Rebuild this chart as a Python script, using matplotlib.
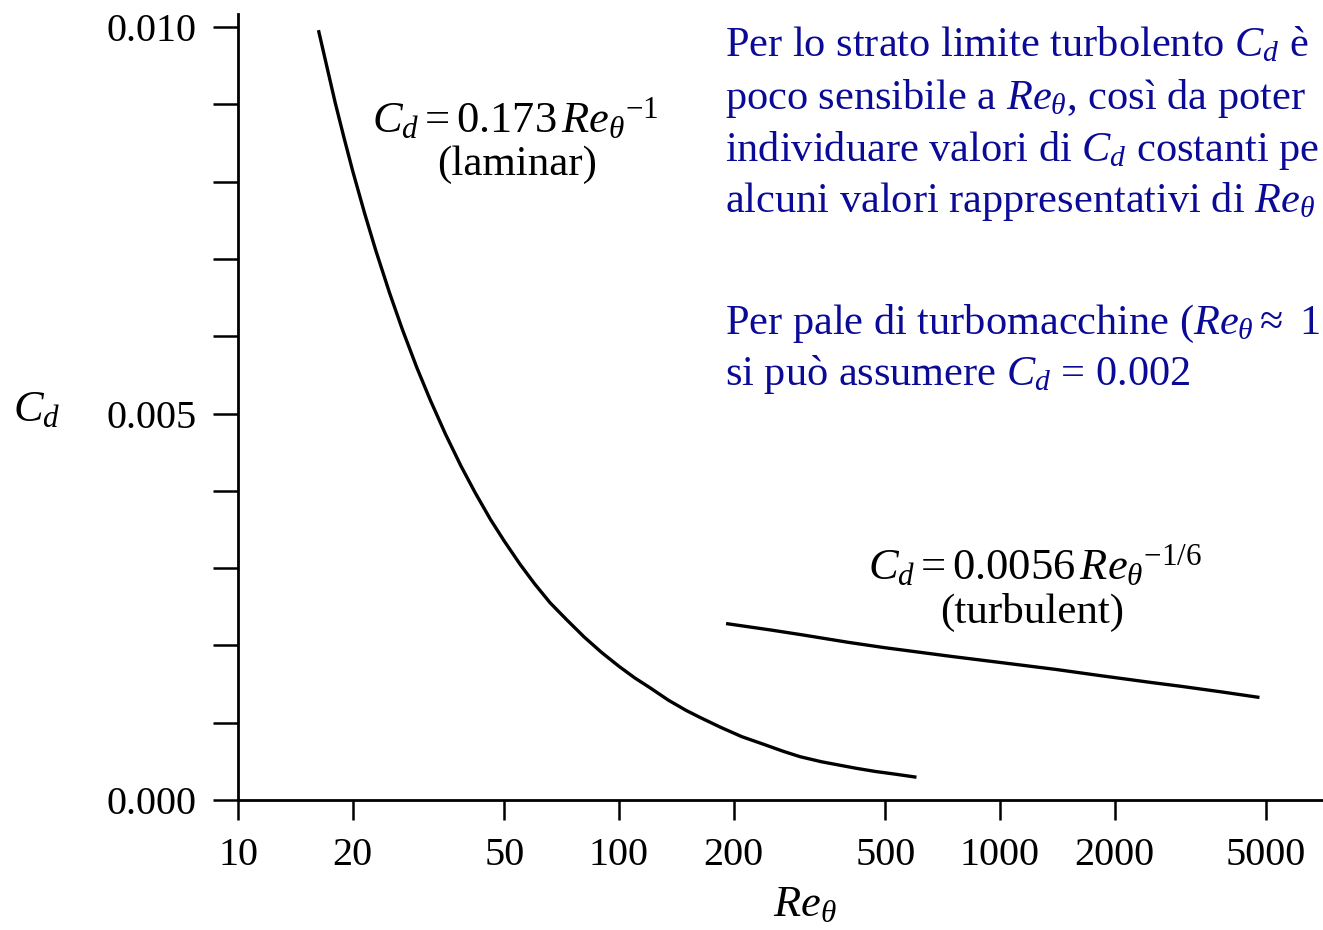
import matplotlib
matplotlib.use("Agg")
import matplotlib.pyplot as plt
from matplotlib.ticker import FixedLocator, NullLocator

plt.rcParams['font.family'] = ['Liberation Serif', 'DejaVu Serif']
plt.rcParams['mathtext.fontset'] = 'custom'
plt.rcParams['mathtext.rm'] = 'Liberation Serif'
plt.rcParams['mathtext.it'] = 'Liberation Serif:italic'
plt.rcParams['mathtext.bf'] = 'Liberation Serif:bold'

# laminar curve
re_lam = [16.3, 17, 18, 19, 20, 21.5, 23, 25, 27, 29.5, 32, 35, 38.5, 42, 46, 50, 55, 60,
          66, 73, 81, 90, 100, 110, 120, 135, 150, 163, 185, 210, 240, 270, 299, 340,
          380, 420, 470, 530, 598]
cd_lam = [0.00994, 0.00955, 0.00902, 0.00856, 0.00814, 0.00759, 0.00711, 0.00656, 0.00609,
          0.00559, 0.00517, 0.00474, 0.00432, 0.00397, 0.00363, 0.00335, 0.00305, 0.00280,
          0.00255, 0.00233, 0.00211, 0.00191, 0.00173, 0.00158, 0.00146, 0.00129, 0.00116,
          0.00107, 0.00094, 0.00082, 0.00072, 0.00063, 0.00056, 0.000495, 0.00045,
          0.00041, 0.00037, 0.000335, 0.000298]

# turbulent curve
re_turb = [193, 250, 300, 400, 500, 740, 1000, 1400, 1830, 2500, 3000, 3800, 4754]
cd_turb = [0.00228, 0.00220, 0.00214, 0.00204, 0.00197, 0.00186, 0.00178, 0.00169,
           0.00161, 0.00152, 0.00147, 0.00140, 0.00133]

x_ticks = [10, 20, 50, 100, 200, 500, 1000, 2000, 5000]
y_major = [0.0, 0.005, 0.010]
y_minor = [0.001, 0.002, 0.003, 0.004, 0.006, 0.007, 0.008, 0.009]

W, H = 1323, 930
blue = '#0a0a96'

def px(x, y):
    # pixel position (from top left) -> figure fraction
    return x / W, 1 - y / H

fig = plt.figure(figsize=(W / 100, H / 100), dpi=100)
ax = fig.add_axes([238 / W, 130 / H, 1 - 238 / W, (800 - 14) / H])

ax.plot(re_lam, cd_lam, color='black', lw=2.4)
ax.plot(re_turb, cd_turb, color='black', lw=2.4)

ax.set_xscale('log')
ax.set_xlim(10, 7050)
ax.set_ylim(0, 0.01017)

ax.spines['top'].set_visible(False)
ax.spines['right'].set_visible(False)
ax.spines['left'].set_linewidth(2.0)
ax.spines['bottom'].set_linewidth(2.0)

ax.xaxis.set_major_locator(FixedLocator(x_ticks))
ax.xaxis.set_minor_locator(NullLocator())
ax.set_xticklabels([str(v) for v in x_ticks])
ax.yaxis.set_major_locator(FixedLocator(y_major))
ax.yaxis.set_minor_locator(FixedLocator(y_minor))
ax.set_yticklabels(['%.3f' % v for v in y_major])

ax.tick_params(axis='x', which='both', direction='out', length=14.5, width=1.8,
               pad=12, labelsize=29)
ax.tick_params(axis='y', which='both', direction='out', length=18, width=1.8,
               pad=12, labelsize=29)

# axis labels
fig.text(*px(37, 410), r'$C_d$', fontsize=32, ha='center', va='center')
fig.text(*px(805, 905), r'$Re_\theta$', fontsize=32, ha='center', va='center')

# curve labels
fig.text(*px(515, 118), r'$C_d = 0.173\,Re_\theta{}^{\mathrm{-1}}$', fontsize=32,
         ha='center', va='center')
fig.text(*px(517, 165), '(laminar)', fontsize=31, ha='center', va='center')
fig.text(*px(1035, 565), r'$C_d = 0.0056\,Re_\theta{}^{\mathrm{-1/6}}$', fontsize=32,
         ha='center', va='center')
fig.text(*px(1032, 612), '(turbulent)', fontsize=31, ha='center', va='center')

# blue notes, only the part that is visible in the original
notes = [
    (56, r'Per lo strato limite turbolento $C_d$ è'),
    (109, r'poco sensibile a $Re_\theta$, così da poter'),
    (161, r'individuare valori di $C_d$ costanti pe'),
    (212, r'alcuni valori rappresentativi di $Re_\theta$'),
    (334, r'Per pale di turbomacchine ($Re_\theta \approx$ 1'),
    (385, r'si può assumere $C_d$ = 0.002'),
]
for yb, s in notes:
    fig.text(*px(725, yb), s, fontsize=30.5, color=blue, ha='left', va='baseline')

fig.savefig('out.png', dpi=100)
